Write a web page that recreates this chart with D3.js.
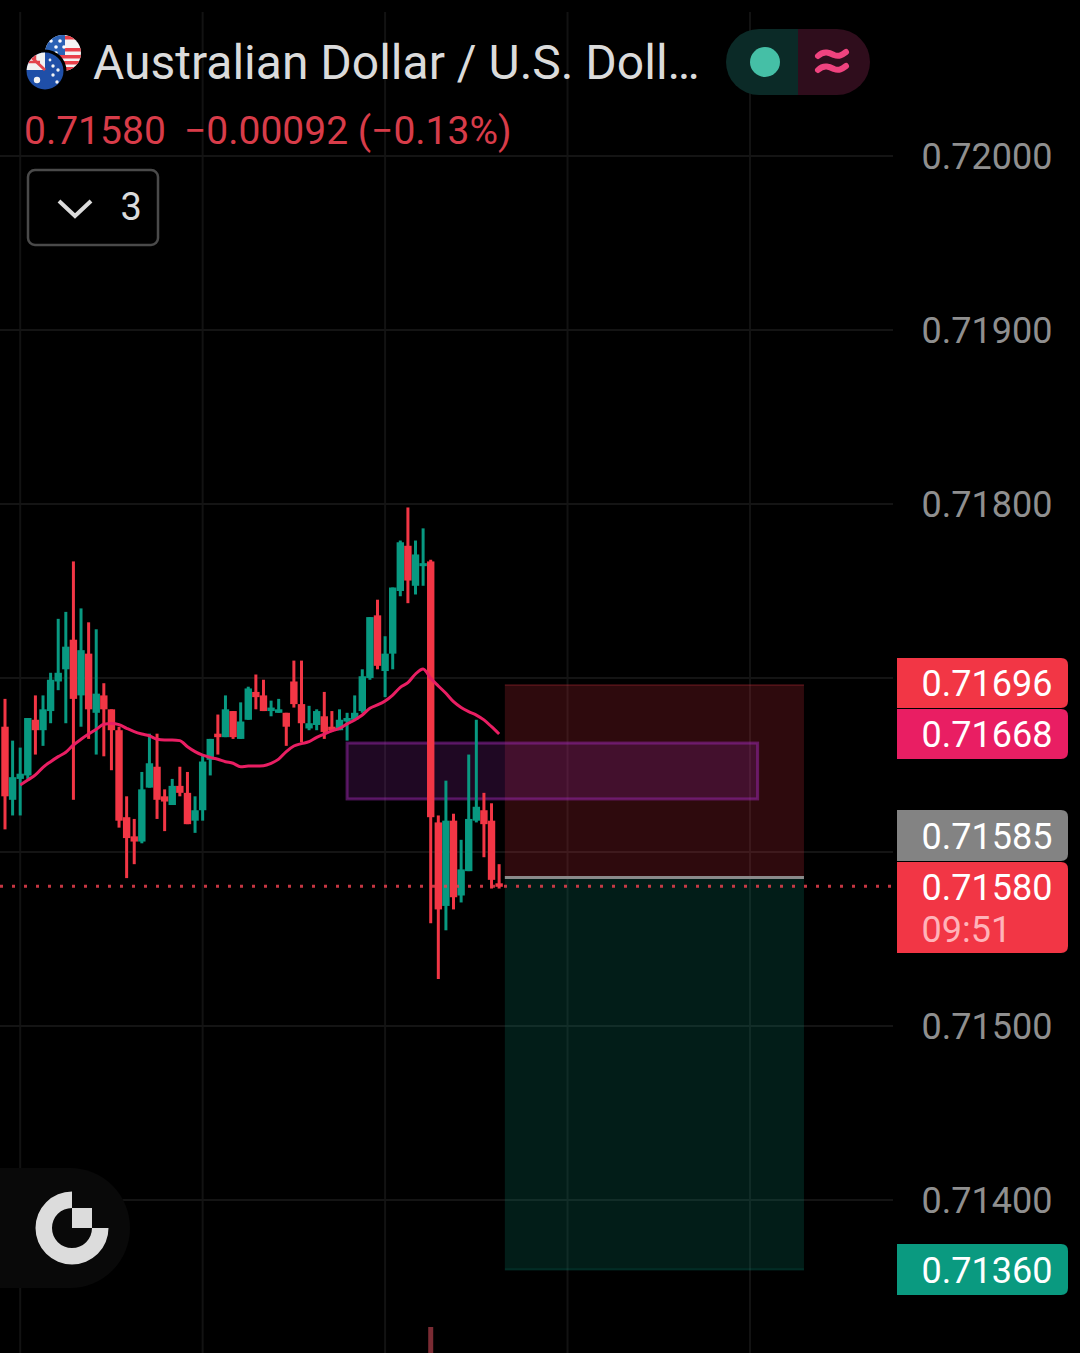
<!DOCTYPE html>
<html><head><meta charset="utf-8">
<script src="https://cdn.jsdelivr.net/npm/d3@7"></script>
<style>html,body{margin:0;background:#000;}svg{display:block;font-family:Roboto,sans-serif;}</style>
</head><body><svg id="c" width="1080" height="1353"></svg>
<script>
const opens=[0.71672,0.71630,0.71642,0.71644,0.71676,0.71670,0.71681,0.71698,0.71705,0.71722,0.71690,0.71714,0.71680,0.71690,0.71682,0.71670,0.71620,0.71609,0.71606,0.71637,0.71649,0.71632,0.71627,0.71638,0.71634,0.71618,0.71624,0.71653,0.71668,0.71666,0.71681,0.71665,0.71676,0.71692,0.71690,0.71681,0.71680,0.71680,0.71698,0.71685,0.71671,0.71673,0.71678,0.71672,0.71670,0.71675,0.71676,0.71681,0.71700,0.71736,0.71704,0.71714,0.71750,0.71776,0.71753,0.71765,0.71767,0.71617,0.71569,0.71618,0.71575,0.71589,0.71618,0.71624,0.71618,0.71582];
const closes=[0.71632,0.71643,0.71645,0.71677,0.71670,0.71682,0.71699,0.71703,0.71718,0.71688,0.71716,0.71682,0.71691,0.71682,0.71670,0.71618,0.71608,0.71606,0.71636,0.71651,0.71630,0.71629,0.71638,0.71634,0.71616,0.71624,0.71652,0.71665,0.71666,0.71682,0.71666,0.71675,0.71694,0.71689,0.71681,0.71683,0.71682,0.71672,0.71685,0.71674,0.71674,0.71681,0.71669,0.71670,0.71676,0.71677,0.71680,0.71701,0.71735,0.71707,0.71714,0.71752,0.71778,0.71756,0.71771,0.71766,0.71620,0.71567,0.71618,0.71574,0.71590,0.71619,0.71626,0.71616,0.71584,0.71580];
const highs=[0.71688,0.71664,0.71660,0.71677,0.71690,0.71690,0.71703,0.71734,0.71738,0.71767,0.71740,0.71732,0.71728,0.71697,0.71682,0.71672,0.71632,0.71619,0.71646,0.71668,0.71668,0.71636,0.71642,0.71649,0.71646,0.71632,0.71656,0.71665,0.71679,0.71690,0.71681,0.71686,0.71695,0.71702,0.71699,0.71687,0.71688,0.71680,0.71710,0.71710,0.71684,0.71682,0.71692,0.71681,0.71682,0.71680,0.71690,0.71705,0.71735,0.71745,0.71724,0.71752,0.71779,0.71798,0.71779,0.71786,0.71768,0.71621,0.71641,0.71622,0.71607,0.71656,0.71676,0.71634,0.71628,0.71593];
const lows=[0.71613,0.71621,0.71621,0.71642,0.71656,0.71661,0.71674,0.71693,0.71674,0.71630,0.71672,0.71665,0.71656,0.71655,0.71647,0.71614,0.71585,0.71593,0.71605,0.71637,0.71619,0.71612,0.71627,0.71632,0.71616,0.71611,0.71618,0.71644,0.71656,0.71666,0.71665,0.71665,0.71676,0.71682,0.71681,0.71678,0.71680,0.71661,0.71683,0.71663,0.71670,0.71670,0.71665,0.71669,0.71670,0.71664,0.71676,0.71680,0.71699,0.71705,0.71689,0.71705,0.71747,0.71743,0.71748,0.71753,0.71559,0.71527,0.71555,0.71567,0.71571,0.71589,0.71617,0.71597,0.71579,0.71579];
const maStart=2;
const maValues=[0.716385,0.716414,0.716443,0.716487,0.716519,0.716548,0.716573,0.716615,0.716648,0.716678,0.716705,0.716734,0.716739,0.716732,0.716711,0.716692,0.716678,0.716667,0.716648,0.716644,0.716644,0.716640,0.716605,0.716577,0.716557,0.716544,0.716533,0.716519,0.716510,0.716490,0.716494,0.716494,0.716496,0.716510,0.716534,0.716577,0.716609,0.716623,0.716634,0.716659,0.716678,0.716697,0.716711,0.716736,0.716759,0.716787,0.716826,0.716845,0.716868,0.716902,0.716946,0.716973,0.717023,0.717052,0.716998,0.716954,0.716912,0.716864,0.716831,0.716807,0.716787,0.716759,0.716720,0.716678];
const gridPrices=[0.72,0.719,0.718,0.717,0.716,0.715,0.714];
const axisLabels=[0.72,0.719,0.718,0.715,0.714];
const gridIndex=[2,26,50,74,98];
const lastPrice=0.7158;
const positionStart=65.75, positionEnd=105.1;
const stopPrice=0.71696, entryPrice=0.71585, targetPrice=0.7136;
const zoneStart=45, zoneEnd=99, zoneTop=0.716626, zoneBottom=0.716305;
const volumeIndex=[56], volumeValues=[26];
const tagPrices=[0.71696,0.71668,0.71585,0.7158,0.7136];
const tagCountdown="09:51";
const titleText="Australian Dollar / U.S. Doll…";
const legendPrice="0.71580", legendChange="−0.00092 (−0.13%)", indicatorCount="3";

const RED="#f23645",GREEN="#089981",PINK="#e91e63";
const svg=d3.select("#c");
const y=d3.scaleLinear().domain([0.714,0.72]).range([1200,156]);
const x=d3.scaleLinear().domain([0,98]).range([5,750]);
const vol=d3.scaleLinear().domain([0,26]).range([1353,1327]);
const fmt=d3.format(".5f");

// grid
svg.append("g").selectAll("line").data(gridIndex).join("line")
  .attr("x1",d=>x(d)).attr("x2",d=>x(d)).attr("y1",12).attr("y2",1353)
  .attr("stroke","#121212").attr("stroke-width",2);
svg.append("g").selectAll("line").data(gridPrices).join("line")
  .attr("x1",0).attr("x2",893).attr("y1",d=>y(d)).attr("y2",d=>y(d))
  .attr("stroke","#141414").attr("stroke-width",2);

// y axis
const ax=svg.append("g").attr("transform","translate(921.5,1)")
  .call(d3.axisRight(y).tickValues(axisLabels).tickFormat(fmt).tickSize(0).tickPadding(0));
ax.select(".domain").remove();
ax.selectAll("text").attr("fill","#8f8f8f").attr("font-size",36).attr("font-family","Roboto,sans-serif");

// volume
svg.append("g").selectAll("rect").data(volumeIndex).join("rect")
  .attr("x",d=>x(d)-2.5).attr("width",5)
  .attr("y",(d,i)=>vol(volumeValues[i])).attr("height",(d,i)=>vol(0)-vol(volumeValues[i]))
  .attr("fill","#7a2b33");

// long position boxes
const bx=x(positionStart),bw=x(positionEnd)-x(positionStart);
svg.append("rect").attr("x",bx).attr("width",bw).attr("y",y(stopPrice)).attr("height",y(entryPrice)-y(stopPrice))
  .attr("fill",RED).attr("fill-opacity",.19);
svg.append("line").attr("x1",bx).attr("x2",bx+bw).attr("y1",y(stopPrice)).attr("y2",y(stopPrice)).attr("stroke",RED).attr("stroke-opacity",.2).attr("stroke-width",2);
svg.append("rect").attr("x",bx).attr("width",bw).attr("y",y(entryPrice)).attr("height",y(targetPrice)-y(entryPrice))
  .attr("fill",GREEN).attr("fill-opacity",.19);
svg.append("line").attr("x1",bx).attr("x2",bx+bw).attr("y1",y(targetPrice)).attr("y2",y(targetPrice)).attr("stroke",GREEN).attr("stroke-opacity",.2).attr("stroke-width",2);

// zone
svg.append("rect").attr("x",x(zoneStart)).attr("width",x(zoneEnd)-x(zoneStart))
  .attr("y",y(zoneTop)).attr("height",y(zoneBottom)-y(zoneTop))
  .attr("fill","#9c27b0").attr("fill-opacity",.2).attr("stroke","#9c27b0").attr("stroke-opacity",.5).attr("stroke-width",3);

// entry line
svg.append("line").attr("x1",bx).attr("x2",bx+bw).attr("y1",y(entryPrice)-.5).attr("y2",y(entryPrice)-.5)
  .attr("stroke","#8a8a8a").attr("stroke-width",3);

// candles
const idx=d3.range(opens.length);
const col=i=>closes[i]>=opens[i]?GREEN:RED;
const g=svg.append("g");
const c=g.selectAll("g").data(idx).join("g");
c.append("line").attr("x1",i=>x(i)).attr("x2",i=>x(i)).attr("y1",i=>y(highs[i])).attr("y2",i=>y(lows[i]))
  .attr("stroke",col).attr("stroke-width",3);
c.append("rect").attr("x",i=>x(i)-3.7).attr("width",7.4)
  .attr("y",i=>y(Math.max(opens[i],closes[i])))
  .attr("height",i=>Math.max(3,Math.abs(y(opens[i])-y(closes[i]))))
  .attr("fill",col);

// MA
svg.append("path").datum(maValues)
  .attr("d",d3.line().x((d,i)=>x(i+maStart)).y(d=>y(d)).curve(d3.curveMonotoneX))
  .attr("fill","none").attr("stroke",PINK).attr("stroke-width",3).attr("stroke-linejoin","round");

// last price dotted
svg.append("line").attr("x1",0).attr("x2",893).attr("y1",y(lastPrice)-.5).attr("y2",y(lastPrice)-.5)
  .attr("stroke","#e8404e").attr("stroke-width",3).attr("stroke-dasharray","3 9").attr("stroke-opacity",.85);

// price tags
const tagBoxes=[{t:658,b:708,c:RED,ty:683},{t:709,b:759,c:PINK,ty:734},{t:810,b:861,c:"#838383",ty:836},{t:862,b:953,c:RED,ty:887},{t:1244,b:1295,c:"#0a9a80",ty:1270}];
const tl=897,tr=1068,r=7;
const tags=svg.append("g").selectAll("g").data(tagPrices).join("g");
tags.append("path").attr("fill",(d,i)=>tagBoxes[i].c).attr("d",(d,i)=>{const b=tagBoxes[i];
  return `M${tl} ${b.t}H${tr-r}Q${tr} ${b.t} ${tr} ${b.t+r}V${b.b-r}Q${tr} ${b.b} ${tr-r} ${b.b}H${tl}Z`;});
tags.append("text").attr("x",921.5).attr("y",(d,i)=>tagBoxes[i].ty).attr("dy",".35em")
  .attr("fill","#fff").attr("font-size",36).text(d=>fmt(d));
svg.append("text").attr("x",921.5).attr("y",942).attr("fill","#ffb3b9").attr("font-size",36).text(tagCountdown);

// header
svg.append("text").attr("x",93).attr("y",79).attr("fill","#dbdbdb").attr("font-size",48).text(titleText);
svg.append("text").attr("x",24).attr("y",144).attr("fill","#d83c49").attr("font-size",39).text(legendPrice);
svg.append("text").attr("x",184).attr("y",144).attr("fill","#d83c49").attr("font-size",39).text(legendChange);

// flags
const defs=svg.append("defs");
defs.append("clipPath").attr("id","us").append("circle").attr("cx",63).attr("cy",53).attr("r",18);
defs.append("clipPath").attr("id","au").append("circle").attr("cx",45).attr("cy",71).attr("r",18.5);
const us=svg.append("g").attr("clip-path","url(#us)");
us.append("rect").attr("x",44).attr("y",34).attr("width",40).attr("height",40).attr("fill","#f4f4f4");
[36,42,48,54,60,66].forEach((v,i)=>{ if(i%2==0||i>2) us.append("rect").attr("x",i<3?63:44).attr("y",v+(i>2?1:0)).attr("width",40).attr("height",3.5).attr("fill","#e9404a");});
us.append("rect").attr("x",44).attr("y",34).attr("width",21).attr("height",21).attr("fill","#2c62b5");
[[51,41],[60,41],[56,47],[47,52],[56,53],[64,47]].forEach(p=>us.append("circle").attr("cx",p[0]).attr("cy",p[1]).attr("r",1.8).attr("fill","#fff"));
svg.append("circle").attr("cx",45).attr("cy",71).attr("r",21.5).attr("fill","#000");
const au=svg.append("g").attr("clip-path","url(#au)");
au.append("rect").attr("x",26).attr("y",52).attr("width",38).attr("height",38).attr("fill","#1f4fa8");
au.append("rect").attr("x",26).attr("y",52).attr("width",19).attr("height",18).attr("fill","#f1f1f1");
au.append("path").attr("d","M28 54L45 70").attr("stroke","#e2434b").attr("stroke-width",3);
au.append("path").attr("d","M26 62L40 62M35 52L35 60").attr("stroke","#e2434b").attr("stroke-width",2.5);
[[37,80,3.2],[53,66,1.7],[58,70,1.7],[53,75,1.7],[57,82,1.7],[50,60,1.4]].forEach(p=>au.append("circle").attr("cx",p[0]).attr("cy",p[1]).attr("r",p[2]).attr("fill","#f4f4f4"));

// pill
const px0=726,px1=870,pm=798,pt=29,pb=95,pr=33;
svg.append("path").attr("fill","#0b2a27").attr("d",`M${pm} ${pt}H${px0+pr}A${pr} ${pr} 0 0 0 ${px0+pr} ${pb}H${pm}Z`);
svg.append("path").attr("fill","#2f0d1c").attr("d",`M${pm} ${pt}H${px1-pr}A${pr} ${pr} 0 0 1 ${px1-pr} ${pb}H${pm}Z`);
svg.append("circle").attr("cx",765).attr("cy",62).attr("r",15).attr("fill","#45bfa6");
svg.append("g").attr("fill","none").attr("stroke","#f0437f").attr("stroke-width",6).attr("stroke-linecap","round")
  .selectAll("path").data([0,14]).join("path")
  .attr("d",d=>`M818 ${56+d}C824 ${50+d} 830 ${53+d} 834 ${55+d}C839 ${57+d} 842 ${55+d} 846 ${52+d}`);

// indicators button
svg.append("rect").attr("x",28).attr("y",170).attr("width",130).attr("height",75).attr("rx",7)
  .attr("fill","#000").attr("stroke","#4a4a4a").attr("stroke-width",2.5);
svg.append("path").attr("d","M59 201L75 216L91 201").attr("fill","none").attr("stroke","#dbdbdb").attr("stroke-width",4);
svg.append("text").attr("x",120.5).attr("y",220).attr("fill","#dbdbdb").attr("font-size",38).text(indicatorCount);

// logo
svg.append("path").attr("fill","#090909").attr("d","M0 1168H70A60 60 0 0 1 70 1288H0Z");
svg.append("path").attr("transform","translate(72,1228)").attr("fill","#dcdcdc")
  .attr("d",d3.arc().innerRadius(20).outerRadius(36.5).startAngle(Math.PI/2).endAngle(2*Math.PI)());
svg.append("rect").attr("x",72).attr("y",1208).attr("width",20).attr("height",20).attr("fill","#dcdcdc");
</script></body></html>
